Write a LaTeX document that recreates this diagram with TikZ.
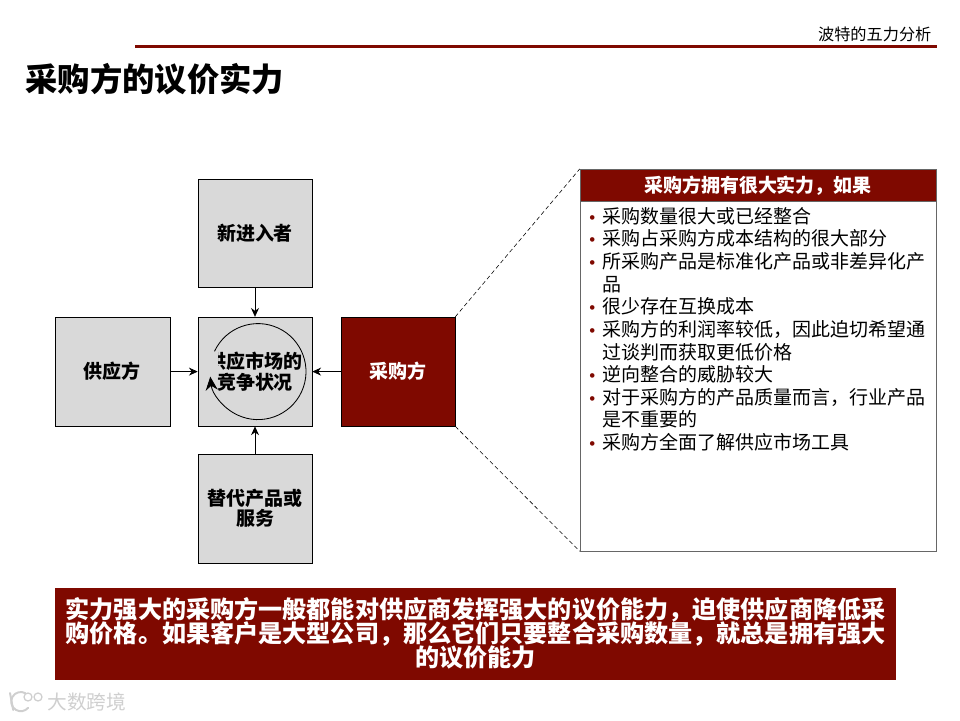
\documentclass[tikz,border=0pt]{standalone}
\usepackage{fontspec}
\setmainfont{Noto Sans CJK SC}
\newfontfamily\latinfont{Liberation Sans}
\usetikzlibrary{positioning,arrows.meta,calc}
\definecolor{brick}{HTML}{7F0900}
\definecolor{panel}{HTML}{D9D9D9}
\definecolor{wmgray}{HTML}{CFCFCF}
\newcommand{\bul}{\makebox[9.4pt][l]{\textcolor{brick}{\latinfont\fontsize{12}{16}\selectfont •}}}
\newcommand{\ind}{\hspace*{9.4pt}}
\setlength{\lineskiplimit}{-10pt}
\tikzset{
  force/.style={draw=black, fill=panel, inner sep=1pt, align=center, font=\fontsize{13.5}{14.6}\selectfont\bfseries},
  forcered/.style={force, fill=brick, text=white},
  edge/.style={-{Stealth[length=2.2mm,width=2mm]}, semithick},
  zoomline/.style={densely dashed, thin},
  lab/.style={inner sep=0pt, align=left},
}
\begin{document}
\begin{tikzpicture}
  \useasboundingbox (0,0) rectangle (24,18);
  % header
  \coordinate (ruleL) at (3.375,16.84);
  \coordinate (ruleR) at (23.425,16.84);
  \draw[brick, line width=2.1pt] (ruleL) -- (ruleR);
  \node[lab, anchor=east, font=\fontsize{11.5}{13}\selectfont] (section) at (23.29,17.15) {波特的五力分析};
  \node[lab, anchor=west, font=\fontsize{23}{26}\selectfont\bfseries] (title) at (0.63,16.02) {采购方的议价实力};

  % five forces
  \node[force, minimum width=2.85cm, minimum height=2.7cm] (entrant) at (6.375,12.175) {新进入者};
  \node[force, minimum width=2.875cm, minimum height=2.725cm] (supplier) at (2.81,8.71) {供应方};
  \node[force, minimum width=2.85cm, minimum height=2.725cm] (market) at (6.375,8.71) {};
  \node[forcered, minimum width=2.85cm, minimum height=2.725cm] (buyer) at (9.95,8.71) {采购方};
  \node[force, minimum width=2.85cm, minimum height=2.725cm] (subst) at (6.375,5.29) {替代产品或\\服务};
  \node[lab, align=center, font=\fontsize{13.5}{15}\selectfont\bfseries] (markettext) at (6.375,8.71) {供应市场的\\竞争状况};
  \fill[panel] (5.1,9.25) rectangle (5.45,8.72);
  \draw[line width=0.6pt, -{Stealth[length=3.4mm,width=3mm]}] (market.center) ++(155:1.2) ++(0.075,0) arc[start angle=155, end angle=-174, radius=1.2];

  \draw[edge] (entrant) -- (market);
  \draw[edge] (supplier) -- (market);
  \draw[edge] (buyer) -- (market);
  \draw[edge] (subst) -- (market);

  % right panel
  \node[draw=black!60, fill=white, minimum width=8.9cm, minimum height=8.75cm] (detail) at (18.95,8.6) {};
  \node[fill=brick, draw=black!60, text=white, minimum width=8.9cm, minimum height=0.8cm, inner sep=0pt, font=\fontsize{13.5}{16}\selectfont\bfseries] (detailhead) at (18.95,13.37) {采购方拥有很大实力，如果};
  \node[lab, anchor=north west, font=\fontsize{13.5}{16.1}\selectfont] (points) at (14.73,12.825) {%
    \bul 采购数量很大或已经整合\\
    \bul 采购占采购方成本结构的很大部分\\
    \bul 所采购产品是标准化产品或非差异化产\\
    \ind 品\\
    \bul 很少存在互换成本\\
    \bul 采购方的利润率较低，因此迫切希望通\\
    \ind 过谈判而获取更低价格\\
    \bul 逆向整合的威胁较大\\
    \bul 对于采购方的产品质量而言，行业产品\\
    \ind 是不重要的\\
    \bul 采购方全面了解供应市场工具};
  \draw[zoomline] (buyer.north east) -- (detailhead.north west);
  \draw[zoomline] (buyer.south east) -- (detail.south west);

  % conclusion
  \node[fill=brick, text=white, minimum width=21.025cm, minimum height=2.3cm, inner sep=0pt, align=center, font=\fontsize{17.15}{17.2}\selectfont\bfseries] (result) at (11.89,2.16) {实力强大的采购方一般都能对供应商发挥强大的议价能力，迫使供应商降低采\\购价格。如果客户是大型公司，那么它们只要整合采购数量，就总是拥有强大\\的议价能力};

  % watermark
  \node[lab, anchor=west, text=wmgray, font=\fontsize{14}{16}\selectfont] (wmark) at (1.18,0.44) {大数跨境};
  \draw[wmgray, line width=1.4pt, line cap=round] (0.25,0.675) -- (0.33,0.25);
  \draw[wmgray, line width=1.4pt, line cap=round] (0.52,0.46) ++(60:0.24) arc[start angle=60, end angle=320, radius=0.24];
  \draw[wmgray, line width=0.9pt] (0.7,0.575) circle[radius=0.1] (0.95,0.575) circle[radius=0.1];
\end{tikzpicture}
\end{document}
